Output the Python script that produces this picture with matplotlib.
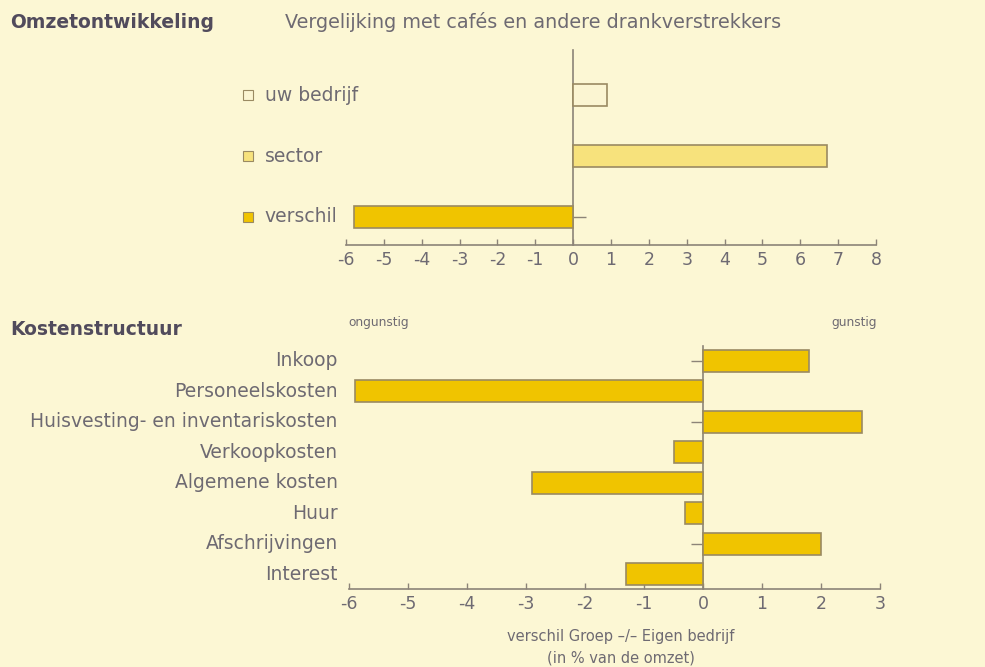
import matplotlib
matplotlib.use('Agg')
import matplotlib.pyplot as plt
import matplotlib.transforms as mtransforms

# --- data ---
omzet_labels = ['uw bedrijf', 'sector', 'verschil']
omzet_values = [0.9, 6.7, -5.8]

kosten_labels = ['Inkoop', 'Personeelskosten', 'Huisvesting- en inventariskosten',
                 'Verkoopkosten', 'Algemene kosten', 'Huur', 'Afschrijvingen', 'Interest']
kosten_values = [1.8, -5.9, 2.7, -0.5, -2.9, -0.3, 2.0, -1.3]

top_ticks = list(range(-6, 9))
bottom_ticks = list(range(-6, 4))

# --- style ---
BG = '#fcf7d4'
GOLD = '#f0c400'
EDGE = '#9a8a62'
TXT = '#6e6a72'
TITLE = '#514b5c'
AXC = '#8c8478'
omzet_colors = ['#fbf5d2', '#f7e27c', GOLD]

plt.rcParams['font.family'] = ['DejaVu Sans']

fig = plt.figure(figsize=(9.85, 6.67), dpi=100)
fig.patch.set_facecolor(BG)

# titels
fig.text(10/985, 1 - 22/667, 'Omzetontwikkeling', fontsize=13.5, fontweight='bold',
         color=TITLE, va='center', ha='left')
fig.text(285/985, 1 - 22/667, 'Vergelijking met cafés en andere drankverstrekkers',
         fontsize=13.8, color=TXT, va='center', ha='left')
fig.text(10/985, 1 - 330/667, 'Kostenstructuur', fontsize=13.5, fontweight='bold',
         color=TITLE, va='center', ha='left')


def style_axes(ax, xmin, xmax, ticks):
    ax.set_facecolor('none')
    for s in ['top', 'right']:
        ax.spines[s].set_visible(False)
    ax.spines['left'].set_position(('data', 0))
    ax.spines['left'].set_color(AXC)
    ax.spines['bottom'].set_color(AXC)
    ax.spines['left'].set_linewidth(1.2)
    ax.spines['bottom'].set_linewidth(1.2)
    ax.set_xlim(xmin, xmax)
    ax.set_xticks(ticks)
    ax.set_xticklabels([str(t) for t in ticks])
    ax.tick_params(axis='x', direction='in', length=4, width=1, color=AXC,
                   labelsize=12.5, labelcolor=TXT, pad=4)
    ax.set_yticklabels([])


# --- boven: omzetontwikkeling ---
ax1 = fig.add_axes([346/985, 1 - 245/667, 530/985, 195/667])
y1 = [2, 1, 0]
ax1.barh(y1, omzet_values, height=0.36, color=omzet_colors, edgecolor=EDGE,
         linewidth=1.2, zorder=3)
style_axes(ax1, -6, 8, top_ticks)
ax1.set_ylim(-0.46, 2.74)
ax1.set_yticks(y1)
ax1.tick_params(axis='y', direction='in', length=9, width=1, color=AXC)

tr1 = mtransforms.blended_transform_factory(ax1.transAxes, ax1.transData)
for yy, lab, col in zip(y1, omzet_labels, omzet_colors):
    ax1.plot([-0.185], [yy], marker='s', markersize=7, color=col,
             markeredgecolor=EDGE, markeredgewidth=0.8,
             transform=tr1, clip_on=False)
    ax1.text(-0.153, yy, lab, transform=tr1, ha='left', va='center',
             fontsize=13.5, color=TXT)

# --- onder: kostenstructuur ---
ax2 = fig.add_axes([349/985, 1 - 589/667, 531/985, 243/667])
y2 = list(range(len(kosten_labels) - 1, -1, -1))
ax2.barh(y2, kosten_values, height=0.72, color=GOLD, edgecolor=EDGE,
         linewidth=1.2, zorder=3)
style_axes(ax2, -6, 3, bottom_ticks)
ax2.set_ylim(-0.49, 7.49)
ax2.set_yticks(y2)
ax2.tick_params(axis='y', direction='out', length=8.5, width=1, color=AXC)

tr2 = mtransforms.blended_transform_factory(ax2.transAxes, ax2.transData)
for yy, lab in zip(y2, kosten_labels):
    ax2.text(-0.021, yy, lab, transform=tr2, ha='right', va='center',
             fontsize=13.5, color=TXT)

fig.text(348/985, 1 - 322/667, 'ongunstig', fontsize=8.7, color=TXT,
         ha='left', va='center')
fig.text(877/985, 1 - 322/667, 'gunstig', fontsize=8.7, color=TXT,
         ha='right', va='center')
fig.text(621/985, 1 - 637/667, 'verschil Groep \u2013/\u2013 Eigen bedrijf',
         fontsize=10.5, color=TXT, ha='center', va='center')
fig.text(621/985, 1 - 658/667, '(in % van de omzet)',
         fontsize=10.5, color=TXT, ha='center', va='center')

plt.savefig('out.png', dpi=100, facecolor=BG)
